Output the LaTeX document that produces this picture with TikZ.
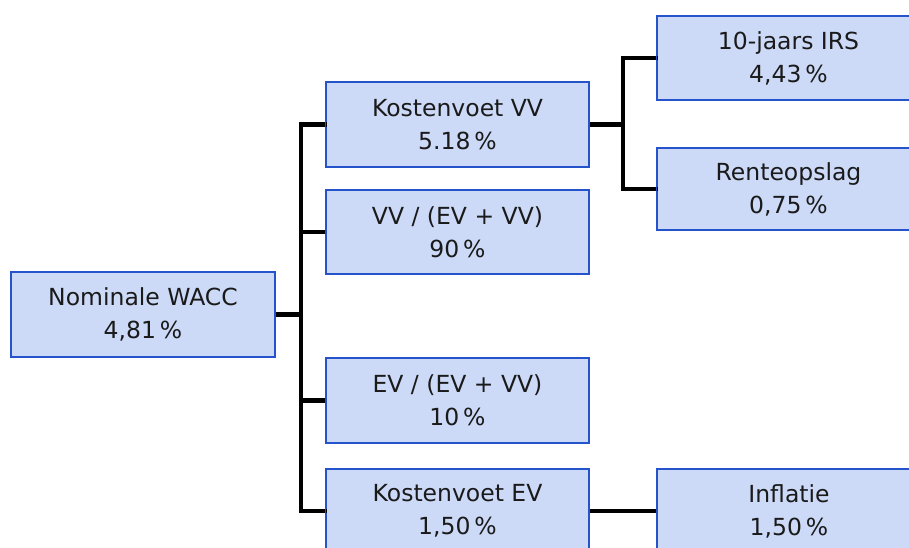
\documentclass[tikz,border=0pt]{standalone}
\usepackage{fontspec}
\setmainfont{DejaVu Sans}
\definecolor{boxfill}{HTML}{CCDAF8}
\definecolor{boxline}{HTML}{2453CC}
\definecolor{txt}{HTML}{1A1A1A}
\begin{document}
\begin{tikzpicture}[x=1pt,y=-1pt,
  box/.style={draw=boxline,fill=boxfill,line width=1.4pt,rectangle,
    minimum width=263pt,minimum height=84pt,inner sep=0pt,align=center,
    text=txt,font=\fontsize{23.5}{33}\selectfont},
  link/.style={draw=black,line width=4.2pt,line cap=rect,line join=miter}]
\useasboundingbox (0,0) rectangle (909,547);
\fill[white] (0,0) rectangle (909,547);
% nodes
\node[box,minimum width=264pt,minimum height=85pt] (nom) at (143,314.5) {Nominale WACC\\4,81\,\%};
\node[box] (kvv) at (457.5,124.5) {Kostenvoet VV\\5.18\,\%};
\node[box] (vv)  at (457.5,232) {VV / (EV + VV)\\90\,\%};
\node[box] (ev)  at (457.5,400.5) {EV / (EV + VV)\\10\,\%};
\node[box] (kev) at (457.5,511) {Kostenvoet EV\\1,50\,\%};
\node[box] (irs) at (788.5,58) {10-jaars IRS\\4,43\,\%};
\node[box,minimum height=82pt] (ren) at (788.5,189) {Renteopslag\\0,75\,\%};
\node[box] (inf) at (789,511) {Inflatie\\1,50\,\%};
% connectors
\coordinate (b1) at (301,314.5);
\coordinate (b2) at (623,124.5);
\draw[link,line cap=butt] (nom.east) -- (b1);
\draw[link] (kvv.west) -| (b1) |- (kev.west);
\draw[link,line cap=butt] (vv.west) -- (vv.west -| b1);
\draw[link,line cap=butt] (ev.west) -- (ev.west -| b1);
\draw[link,line cap=butt] (kvv.east) -- (b2);
\draw[link] (irs.west) -| (b2) |- (ren.west);
\draw[link,line cap=butt] (kev.east) -- (inf.west);
% redraw box borders on top of connector ends
\foreach \n in {nom,kvv,vv,ev,kev,irs,ren,inf}{
  \draw[boxline,line width=1.4pt] (\n.south west) rectangle (\n.north east);}
\end{tikzpicture}
\end{document}
